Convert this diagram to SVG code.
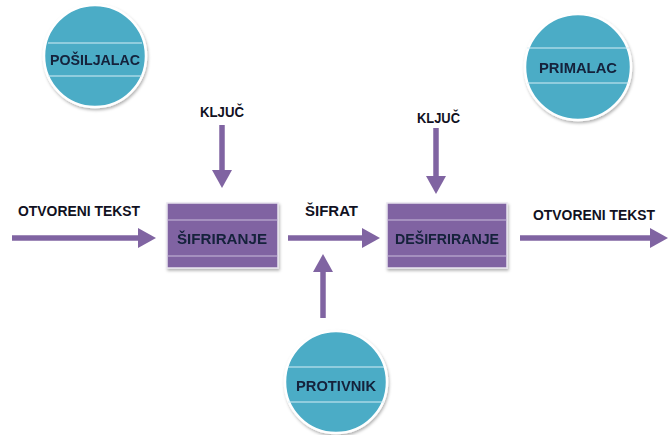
<svg xmlns="http://www.w3.org/2000/svg" width="668" height="435" viewBox="0 0 668 435">
<style>
.c{fill:#4BACC6;stroke:#ffffff;stroke-width:2.5}
.band{stroke:#d6eef5;stroke-width:1.2;fill:none}
.box{fill:#8064A2;stroke:#e8e4ee;stroke-width:1.5}
.bl{stroke:#c9bcdb;stroke-width:1.2;fill:none}
.t{font-family:"Liberation Sans",Arial,sans-serif;font-weight:bold;font-size:14.5px;fill:#111122}
.tc{font-family:"Liberation Sans",Arial,sans-serif;font-weight:bold;font-size:15px;fill:#12203a;text-anchor:middle}
.a{stroke:#8064A2;stroke-width:5.5;fill:none}
.h{fill:#8064A2}
</style>
<defs>
<filter id="sh" x="-20%" y="-20%" width="140%" height="140%">
<feDropShadow dx="1" dy="2" stdDeviation="1.5" flood-color="#000" flood-opacity="0.3"/>
</filter>
</defs>
<g id="connectors">
<line class="a" x1="12" y1="238" x2="140" y2="238"/>
<polygon class="h" points="138,228 156,238 138,248"/>
<line class="a" x1="222" y1="125" x2="222" y2="172"/>
<polygon class="h" points="212,170 222,188 232,170"/>
<line class="a" x1="288" y1="238" x2="364" y2="238"/>
<polygon class="h" points="362,228 380,238 362,248"/>
<line class="a" x1="436" y1="128" x2="436" y2="178"/>
<polygon class="h" points="426,176 436,194 446,176"/>
<line class="a" x1="323" y1="318" x2="323" y2="270"/>
<polygon class="h" points="313,272 323,254 333,272"/>
<line class="a" x1="520" y1="238" x2="652" y2="238"/>
<polygon class="h" points="650,228 668,238 650,248"/>
</g>
<g id="label-otvoreni-1"><text class="t" x="18" y="216" textLength="122" lengthAdjust="spacingAndGlyphs">OTVORENI TEKST</text></g>
<g id="label-kljuc-1"><text class="t" x="200" y="117" textLength="44" lengthAdjust="spacingAndGlyphs">KLJUČ</text></g>
<g id="label-sifrat"><text class="t" x="305" y="216" textLength="53" lengthAdjust="spacingAndGlyphs">ŠIFRAT</text></g>
<g id="label-kljuc-2"><text class="t" x="417" y="123" textLength="43" lengthAdjust="spacingAndGlyphs">KLJUČ</text></g>
<g id="label-otvoreni-2"><text class="t" x="533" y="220" textLength="122" lengthAdjust="spacingAndGlyphs">OTVORENI TEKST</text></g>
<g id="posiljalac" filter="url(#sh)">
<circle class="c" cx="95" cy="56" r="51"/>
<line class="band" x1="48" y1="43" x2="142" y2="43"/>
<line class="band" x1="48" y1="76" x2="142" y2="76"/>
<text class="tc" x="95" y="65" textLength="90" lengthAdjust="spacingAndGlyphs">POŠILJALAC</text>
</g>
<g id="primalac" filter="url(#sh)">
<circle class="c" cx="578" cy="67" r="53"/>
<line class="band" x1="527" y1="48" x2="629" y2="48"/>
<line class="band" x1="527" y1="83" x2="629" y2="83"/>
<text class="tc" x="578" y="73" textLength="78" lengthAdjust="spacingAndGlyphs">PRIMALAC</text>
</g>
<g id="protivnik" filter="url(#sh)">
<circle class="c" cx="336" cy="382" r="51"/>
<line class="band" x1="288" y1="367" x2="384" y2="367"/>
<line class="band" x1="288" y1="402" x2="384" y2="402"/>
<text class="tc" x="336" y="391" textLength="80" lengthAdjust="spacingAndGlyphs">PROTIVNIK</text>
</g>
<g id="sifriranje" filter="url(#sh)">
<rect class="box" x="167" y="203" width="111" height="65"/>
<line class="bl" x1="167" y1="220" x2="278" y2="220"/>
<line class="bl" x1="167" y1="256" x2="278" y2="256"/>
<text class="tc" x="222" y="244" textLength="90" lengthAdjust="spacingAndGlyphs">ŠIFRIRANJE</text>
</g>
<g id="desifriranje" filter="url(#sh)">
<rect class="box" x="387" y="203" width="120" height="65"/>
<line class="bl" x1="387" y1="220" x2="507" y2="220"/>
<line class="bl" x1="387" y1="256" x2="507" y2="256"/>
<text class="tc" x="447" y="244" textLength="104" lengthAdjust="spacingAndGlyphs">DEŠIFRIRANJE</text>
</g>
</svg>
